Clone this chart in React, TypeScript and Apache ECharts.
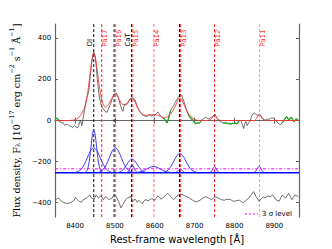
import React, { useEffect, useRef } from "react";
import * as echarts from "echarts";

const xRange = [8350, 8962];
const yRange = [-470, 470];
const xTickValues = [8400, 8500, 8600, 8700, 8800, 8900];
const yTickValues = [-400, -200, 0, 200, 400];

// observed spectrum
const specWave = [
  8350, 8352, 8355, 8358, 8362, 8366, 8370, 8374, 8378, 8382, 8386, 8390, 8394, 8398, 8402, 8406, 8409, 8412, 8414, 8417,
  8420, 8424, 8428, 8432, 8435, 8438, 8441, 8444, 8447, 8450, 8453, 8456, 8459, 8462, 8465, 8469, 8473, 8477, 8480, 8484,
  8489, 8493, 8497, 8500, 8503, 8506, 8509, 8513, 8517, 8520, 8524, 8528, 8532, 8535, 8538, 8541, 8544, 8547, 8551, 8554,
  8557, 8561, 8564, 8568, 8572, 8576, 8580, 8584, 8588, 8592, 8596, 8600, 8604, 8608, 8612, 8616, 8620, 8624, 8628, 8631,
  8634, 8637, 8640, 8644, 8648, 8651, 8655, 8659, 8663, 8666, 8669, 8672, 8676, 8679, 8683, 8687, 8691, 8695, 8699, 8703,
  8707, 8711, 8715, 8719, 8723, 8727, 8731, 8735, 8739, 8743, 8747, 8751, 8755, 8759, 8763, 8767, 8771, 8775, 8779, 8783,
  8787, 8791, 8795, 8799, 8803, 8806, 8810, 8814, 8817, 8820, 8823, 8826, 8829, 8832, 8836, 8840, 8843, 8846, 8850, 8854,
  8858, 8862, 8866, 8870, 8874, 8878, 8882, 8886, 8890, 8894, 8898, 8901, 8905, 8909, 8913, 8916, 8920, 8924, 8928, 8931,
  8934, 8937, 8940, 8943, 8946, 8950, 8953, 8956, 8960,
];
const specFlux = [
  2, 8, 12, 5, -6, -12, -10, -23, -18, -20, -27, -27, -34, -25, -30, -36, -25, -5, 0, -25,
  8, 55, 100, 125, 150, 215, 269, 310, 332, 312, 269, 200, 143, 105, 80, 62, 51, 42, 40, 58,
  80, 105, 127, 130, 135, 125, 111, 80, 56, 45, 80, 76, 82, 95, 106, 108, 111, 107, 100, 80,
  62, 50, 40, 30, 24, 22, 19, 25, 31, 20, 28, 24, 33, 42, 30, 21, 12, 8, -3, -12,
  5, 30, 50, 64, 75, 87, 100, 114, 122, 127, 115, 100, 75, 56, 35, 20, 10, 4, -8, -15,
  -12, -14, -5, 4, 10, 16, 12, 9, 12, 16, 22, 32, 15, 4, -2, -7, -12, -12, -10, -15,
  -14, -17, -13, -15, -12, -16, -5, 1, -5, -20, -39, -15, -5, -25, -10, 0, 20, 32, 37, 30,
  25, 30, 22, 9, 5, 1, 8, 5, 10, 14, 10, 5, -2, -12, -18, -20, -10, 0, 12, 20,
  10, 2, 12, 15, 5, -5, 5, 8, 2,
];
const greenWindows = [
  [8350, 8362],
  [8618, 8641],
  [8681, 8720],
  [8769, 8815],
  [8920, 8962],
];

// best-fit model
const modelWave = [
  8350, 8380, 8395, 8405, 8415, 8425, 8432, 8438, 8443, 8447, 8451, 8455, 8460, 8465, 8470, 8476, 8482, 8490, 8497, 8501,
  8506, 8513, 8520, 8527, 8535, 8542, 8548, 8555, 8562, 8570, 8580, 8590, 8598, 8606, 8615, 8625, 8635, 8645, 8652, 8658,
  8663, 8668, 8675, 8682, 8690, 8700, 8710, 8730, 8740, 8745, 8750, 8755, 8760, 8770, 8850, 8855, 8860, 8863, 8867, 8872,
  8878, 8890, 8962,
];
const modelFlux = [
  0, 0, 2, 8, 28, 70, 140, 230, 305, 330, 310, 255, 180, 120, 82, 66, 74, 100, 122, 127,
  120, 95, 78, 80, 95, 106, 100, 70, 45, 30, 25, 28, 30, 27, 20, 14, 22, 46, 72, 98,
  111, 100, 70, 42, 20, 6, 1, 0, 5, 15, 28, 15, 4, 0, 0, 10, 24, 28, 22, 8,
  1, 0, 0,
];

// residuals (plotted with offset)
const residWave = [
  8351, 8358, 8366, 8374, 8382, 8390, 8398, 8401, 8406, 8410, 8416, 8421, 8429, 8437, 8441, 8448, 8453, 8459, 8465, 8471,
  8477, 8485, 8493, 8498, 8503, 8509, 8515, 8520, 8527, 8532, 8540, 8544, 8548, 8552, 8556, 8560, 8568, 8576, 8584, 8592,
  8600, 8608, 8616, 8624, 8632, 8640, 8648, 8656, 8664, 8671, 8679, 8687, 8695, 8703, 8711, 8719, 8727, 8735, 8743, 8751,
  8759, 8767, 8774, 8781, 8790, 8797, 8805, 8813, 8821, 8828, 8836, 8842, 8848, 8854, 8862, 8867, 8872, 8878, 8884, 8890,
  8896, 8904, 8912, 8920, 8928, 8936, 8944, 8952, 8960,
];
const residFlux = [
  -385, -377, -393, -401, -404, -398, -388, -374, -385, -393, -398, -385, -377, -362, -377, -382, -362, -377, -366, -385,
  -370, -385, -377, -362, -370, -393, -425, -409, -385, -377, -370, -393, -385, -385, -398, -388, -404, -385, -391, -380,
  -388, -366, -383, -370, -354, -370, -385, -366, -357, -362, -370, -377, -388, -396, -391, -380, -370, -377, -385, -370,
  -377, -385, -388, -383, -385, -393, -390, -388, -401, -390, -378, -362, -346, -370, -393, -380, -372, -375, -367, -370,
  -362, -385, -393, -362, -378, -354, -385, -362, -370,
];

// Gaussian components (plotted with offset)
const compBaseline = -254;
const sigma3Level = -235;
const gaussOInarrow = [
  [8419, -254], [8426, -251.7], [8429.5, -244.8], [8433, -225.7], [8436.5, -186.1], [8440, -127.2], [8443.5, -69.6], [8447, -45],
  [8450.5, -69.6], [8454, -127.2], [8457.5, -186.1], [8461, -225.7], [8464.5, -244.8], [8468, -251.7], [8475, -254],
];
const gaussOIbroad = [
  [8399, -252.7], [8407, -248.7], [8415, -237.6], [8423, -214.7], [8431, -180.6], [8439, -147.2], [8447, -133],
  [8455, -147.2], [8463, -180.6], [8471, -214.7], [8479, -237.6], [8487, -248.7], [8495, -252.7],
];
const gauss8500 = [
  [8456, -252.7], [8463.5, -248.7], [8471, -237.6], [8478.5, -214.7], [8486, -180.6], [8493.5, -147.2], [8501, -133],
  [8508.5, -147.2], [8516, -180.6], [8523.5, -214.7], [8531, -237.6], [8538.5, -248.7], [8546, -252.7],
];
const gauss8542broad = [
  [8504, -253.3], [8510.5, -251.1], [8517, -245.1], [8523.5, -232.6], [8530, -214], [8536.5, -195.8], [8543, -188],
  [8549.5, -195.8], [8556, -214], [8562.5, -232.6], [8569, -245.1], [8575.5, -251.1], [8582, -253.3],
];
const gauss8542narrow = [
  [8528, -253.6], [8530.5, -252.3], [8533, -248.9], [8535.5, -241.7], [8538, -231], [8540.5, -220.5], [8543, -216],
  [8545.5, -220.5], [8548, -231], [8550.5, -241.7], [8553, -248.9], [8555.5, -252.3], [8558, -253.6],
];
const gauss8598 = [
  [8546, -253.7], [8554.5, -252.7], [8563, -249.9], [8571.5, -244.3], [8580, -235.8], [8588.5, -227.5], [8597, -224],
  [8605.5, -227.5], [8614, -235.8], [8622.5, -244.3], [8631, -249.9], [8639.5, -252.7], [8648, -253.7],
];
const gauss8662broad = [
  [8618, -253], [8625.5, -249.9], [8633, -241.3], [8640.5, -223.5], [8648, -197], [8655.5, -171], [8663, -160],
  [8670.5, -171], [8678, -197], [8685.5, -223.5], [8693, -241.3], [8700.5, -249.9], [8708, -253],
];
const gauss8662narrow = [
  [8651.5, -253.2], [8654, -251.6], [8656.5, -248.2], [8659, -243.1], [8661.5, -238.1], [8664, -236],
  [8666.5, -238.1], [8669, -243.1], [8671.5, -248.2], [8674, -251.6], [8676.5, -253.2],
];
const gaussPa12 = [
  [8738.75, -252.7], [8741, -249.9], [8743.25, -244.3], [8745.5, -235.8], [8747.75, -227.5], [8750, -224],
  [8752.25, -227.5], [8754.5, -235.8], [8756.75, -244.3], [8759, -249.9], [8761.25, -252.7],
];
const gaussPa11 = [
  [8849.5, -252.6], [8852, -249.8], [8854.5, -243.9], [8857, -235.2], [8859.5, -226.6], [8862, -223],
  [8864.5, -226.6], [8867, -235.2], [8869.5, -243.9], [8872, -249.8], [8874.5, -252.6],
];
const gaussComponents = [
  gaussOInarrow, gaussOIbroad, gauss8500, gauss8542broad, gauss8542narrow,
  gauss8598, gauss8662broad, gauss8662narrow, gaussPa12, gaussPa11,
];

// line identifications
const blackLineWaves = [8447, 8498, 8542, 8662];
const paLineWaves = [8467, 8502, 8545, 8598, 8665, 8750, 8863];
const paLineOpacity = [0.9, 0.6, 0.6, 0.6, 0.85, 0.9, 0.4];
const lineLabels = [
  { text: "OI", wave: 8447, side: -1, black: true },
  { text: "Pa17", wave: 8467, side: 1, black: false },
  { text: "Pa16", wave: 8502, side: 1, black: false },
  { text: "CaT", wave: 8542, side: -1, black: true },
  { text: "Pa15", wave: 8545, side: 1, black: false },
  { text: "Pa14", wave: 8598, side: 1, black: false },
  { text: "Pa13", wave: 8665, side: 1, black: false },
  { text: "Pa12", wave: 8750, side: 1, black: false },
  { text: "Pa11", wave: 8863, side: 1, black: false },
];
const labelAnchorFlux = 360;
const legendLabel = "3 σ level";

const minusFmt = (v: number) => (v < 0 ? "\u2212" + Math.abs(v) : String(v));

export default function App() {
  const ref = useRef<HTMLDivElement>(null);
  useEffect(() => {
    const chart = echarts.init(ref.current!, null, { renderer: "svg" });
    const axisColor = "#666";
    const series: any[] = [];
    const base = { type: "line", symbol: "none", silent: true, animation: false };

    series.push({
      ...base,
      data: specWave.map((w, i) => [w, specFlux[i]]),
      lineStyle: { color: "#4a4a4a", width: 0.8 },
      z: 2,
    });
    greenWindows.forEach(([a, b]) => {
      const pts = specWave.map((w, i) => [w, specFlux[i]]).filter((p) => p[0] >= a && p[0] <= b);
      series.push({ ...base, data: pts, lineStyle: { color: "#22aa22", width: 1.2 }, z: 3 });
    });
    series.push({
      ...base,
      data: modelWave.map((w, i) => [w, modelFlux[i]]),
      smooth: 0.3,
      lineStyle: { color: "#ff3333", width: 1, opacity: 0.85 },
      z: 4,
    });
    blackLineWaves.forEach((w) =>
      series.push({
        ...base,
        data: [[w, yRange[0]], [w, yRange[1]]],
        lineStyle: { color: "#000", width: 1, type: [3, 2] },
        z: 1,
      })
    );
    paLineWaves.forEach((w, i) =>
      series.push({
        ...base,
        data: [[w, yRange[0]], [w, yRange[1]]],
        lineStyle: { color: "#ff0000", width: 1, type: [3, 2], opacity: paLineOpacity[i] },
        z: 1,
      })
    );
    series.push({
      ...base,
      data: [[xRange[0], compBaseline], [xRange[1], compBaseline]],
      lineStyle: { color: "#0000ff", width: 1.5 },
      z: 5,
    });
    gaussComponents.forEach((g) =>
      series.push({ ...base, data: g, smooth: 0.35, lineStyle: { color: "#3535ff", width: 1, opacity: 0.95 }, z: 5 })
    );
    series.push({
      ...base,
      name: legendLabel,
      data: [[xRange[0], sigma3Level], [xRange[1], sigma3Level]],
      lineStyle: { color: "#ff00ff", width: 1, type: [3, 2, 1, 2] },
      z: 6,
    });
    series.push({
      ...base,
      data: residWave.map((w, i) => [w, residFlux[i]]),
      lineStyle: { color: "#4a4a4a", width: 0.8 },
      z: 2,
    });

    const tickLabel = { fontFamily: "DejaVu Sans", fontSize: 7, color: "#000" };
    chart.setOption({
      animation: false,
      grid: { left: 42, top: 24, width: 257, height: 199 },
      xAxis: [
        {
          type: "value",
          min: xRange[0],
          max: xRange[1],
          position: "bottom",
          axisLine: { show: true, lineStyle: { color: axisColor, width: 1.2 } },
          axisTick: { show: true, inside: true, length: 3, customValues: xTickValues, lineStyle: { color: axisColor } },
          axisLabel: { ...tickLabel, margin: 5, customValues: xTickValues, formatter: (v: number) => String(v) },
          splitLine: { show: false },
          name: "Rest-frame wavelength [Å]",
          nameLocation: "middle",
          nameGap: 12,
          nameTextStyle: { fontFamily: "DejaVu Sans", fontSize: 10, color: "#000" },
        },
        {
          type: "value",
          min: xRange[0],
          max: xRange[1],
          position: "top",
          axisLine: { show: true, lineStyle: { color: axisColor, width: 1.2 } },
          axisTick: { show: true, inside: true, length: 3, customValues: xTickValues, lineStyle: { color: axisColor } },
          axisLabel: { show: false },
          splitLine: { show: false },
        },
      ],
      yAxis: [
        {
          type: "value",
          min: yRange[0],
          max: yRange[1],
          position: "left",
          axisLine: { show: true, lineStyle: { color: axisColor, width: 1.2 } },
          axisTick: { show: true, inside: true, length: 3, customValues: yTickValues, lineStyle: { color: axisColor } },
          axisLabel: { ...tickLabel, margin: 4, customValues: yTickValues, formatter: minusFmt },
          splitLine: { show: false },
          name: "{t|Flux density, F}{sub|λ}{t| [10}{sup|\u221217}{t| erg cm}{sup|\u22122}{t| s}{sup|\u22121}{t| Å}{sup|\u22121}{t|]}",
          nameLocation: "middle",
          nameGap: 24,
          nameRotate: 90,
          nameTextStyle: {
            rich: {
              t: { fontFamily: "DejaVu Serif", fontSize: 9.5, color: "#000", lineHeight: 13, verticalAlign: "bottom" },
              sup: { fontFamily: "DejaVu Serif", fontSize: 6.5, color: "#000", lineHeight: 7, verticalAlign: "top" },
              sub: { fontFamily: "DejaVu Serif", fontSize: 6.5, color: "#000", lineHeight: 7, verticalAlign: "bottom" },
            },
          },
        },
        {
          type: "value",
          min: yRange[0],
          max: yRange[1],
          position: "right",
          axisLine: { show: true, lineStyle: { color: axisColor, width: 1.2 } },
          axisTick: { show: true, inside: true, length: 3, customValues: yTickValues, lineStyle: { color: axisColor } },
          axisLabel: { show: false },
          splitLine: { show: false },
        },
      ],
      series,
    });

    const graphics: any[] = lineLabels.map((l) => {
      const p = chart.convertToPixel({ xAxisIndex: 0, yAxisIndex: 0 }, [l.wave, labelAnchorFlux]) as number[];
      return {
        type: "text",
        x: p[0] + (l.side < 0 ? -3.5 : 3),
        y: p[1],
        rotation: Math.PI / 2,
        silent: true,
        z: 10,
        style: {
          text: l.text,
          fill: l.black ? "#000" : "rgba(255,0,0,0.85)",
          font: '7px "DejaVu Sans"',
          align: "left",
          verticalAlign: "middle",
        },
      };
    });
    // legend (handle + label)
    graphics.push({
      type: "line",
      silent: true,
      z: 10,
      shape: { x1: 245, y1: 214, x2: 258, y2: 214 },
      style: { stroke: "#ff00ff", lineWidth: 1, lineDash: [2, 2] },
    });
    graphics.push({
      type: "text",
      x: 262,
      y: 214,
      silent: true,
      z: 10,
      style: { text: legendLabel, fill: "#000", font: '7px "DejaVu Sans"', align: "left", verticalAlign: "middle" },
    });
    chart.setOption({ graphic: graphics });

    return () => chart.dispose();
  }, []);
  return (
    <div
      ref={ref}
      style={{ position: "fixed", left: 0, top: 0, width: 332, height: 249, background: "#fff" }}
    />
  );
}
